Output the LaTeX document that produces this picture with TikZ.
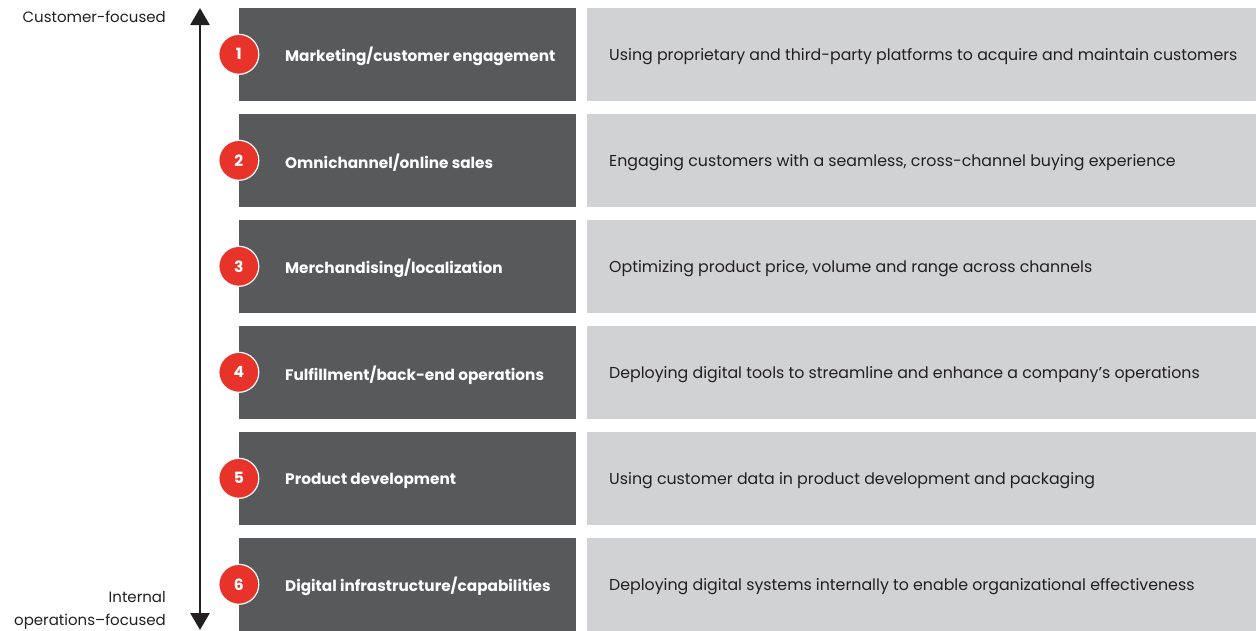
\documentclass[tikz,border=0pt]{standalone}
\usepackage{fontspec}
\setmainfont{Poppins}
\usetikzlibrary{arrows.meta}

\definecolor{boxdark}{HTML}{58595B}
\definecolor{boxlight}{HTML}{D1D2D4}
\definecolor{badgered}{HTML}{E8332A}
\definecolor{inkblack}{HTML}{231F20}

\begin{document}
\begin{tikzpicture}[x=1pt,y=-1pt,
    darkbox/.style={rectangle,fill=boxdark,minimum width=337pt,minimum height=93pt,inner sep=0pt},
    lightbox/.style={rectangle,fill=boxlight,minimum width=669pt,minimum height=93pt,inner sep=0pt},
    badge/.style={circle,fill=badgered,draw=white,line width=1.2pt,minimum size=40pt,inner sep=0pt,
        text=white,font=\fontsize{15.5}{18}\selectfont\bfseries},
    title/.style={anchor=west,inner sep=0pt,yshift=-2.5pt,text=white,font=\fontsize{15.3}{18}\selectfont\bfseries},
    desc/.style={anchor=west,inner sep=0pt,yshift=-2.5pt,text=inkblack,font=\fontsize{15.8}{18}\selectfont},
    side/.style={inner sep=0pt,align=right,text=inkblack,font=\fontsize{15}{23}\selectfont}]
    \useasboundingbox (0,0) rectangle (1256,630);

    % rows, top to bottom
    \node[darkbox] (b1) at (407.5,54.3) {};
    \node[darkbox] (b2) at (407.5,160.3) {};
    \node[darkbox] (b3) at (407.5,266.3) {};
    \node[darkbox] (b4) at (407.5,372.3) {};
    \node[darkbox] (b5) at (407.5,478.3) {};
    \node[darkbox] (b6) at (407.5,584.3) {};

    \node[lightbox] (d1) at (921.5,54.3) {};
    \node[lightbox] (d2) at (921.5,160.3) {};
    \node[lightbox] (d3) at (921.5,266.3) {};
    \node[lightbox] (d4) at (921.5,372.3) {};
    \node[lightbox] (d5) at (921.5,478.3) {};
    \node[lightbox] (d6) at (921.5,584.3) {};

    \node[badge] (n1) at (b1.west) {1};
    \node[badge] (n2) at (b2.west) {2};
    \node[badge] (n3) at (b3.west) {3};
    \node[badge] (n4) at (b4.west) {4};
    \node[badge] (n5) at (b5.west) {5};
    \node[badge] (n6) at (b6.west) {6};

    \node[title] (t1) at (285,54.3) {Marketing/customer engagement};
    \node[title] (t2) at (285,160.3) {Omnichannel/online sales};
    \node[title] (t3) at (285,266.3) {Merchandising/localization};
    \node[title] (t4) at (285,372.3) {Fulfillment/back-end operations};
    \node[title] (t5) at (285,478.3) {Product development};
    \node[title] (t6) at (285,584.3) {Digital infrastructure/capabilities};

    \node[desc] (e1) at (609,54.3) {Using proprietary and third-party platforms to acquire and maintain customers};
    \node[desc] (e2) at (609,160.3) {Engaging customers with a seamless, cross-channel buying experience};
    \node[desc] (e3) at (609,266.3) {Optimizing product price, volume and range across channels};
    \node[desc] (e4) at (609,372.3) {Deploying digital tools to streamline and enhance a company’s operations};
    \node[desc] (e5) at (609,478.3) {Using customer data in product development and packaging};
    \node[desc] (e6) at (609,584.3) {Deploying digital systems internally to enable organizational effectiveness};

    % axis
    \coordinate (top) at (200,8);
    \coordinate (bot) at (200,630);
    \draw[inkblack,line width=2.7pt,{Triangle[width=19pt,length=17pt]}-{Triangle[width=19pt,length=17pt]}]
        (bot) -- (top);

    \node[side,anchor=east] (c) at (166,17) {Customer-focused};
    \node[side,anchor=south east] (o) at (166,630) {Internal\\operations–focused};
\end{tikzpicture}
\end{document}
